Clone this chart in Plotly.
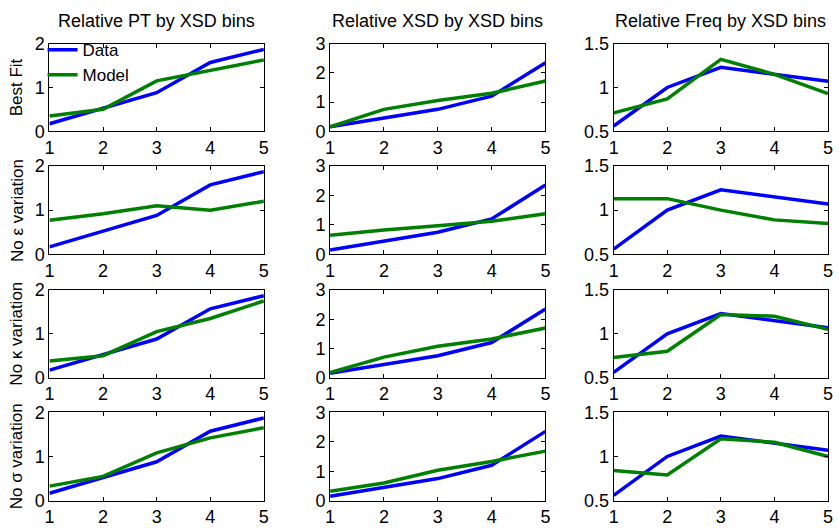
import plotly.graph_objects as go

bins = [1, 2, 3, 4, 5]
col_titles = ["Relative PT by XSD bins", "Relative XSD by XSD bins", "Relative Freq by XSD bins"]
row_titles = ["Best Fit", "No ε variation", "No κ variation", "No σ variation"]

data_pt = [0.17, 0.52, 0.88, 1.57, 1.87]
data_xsd = [0.15, 0.45, 0.75, 1.2, 2.35]
data_freq = [0.56, 1.0, 1.23, 1.15, 1.07]

model_pt = [
    [0.35, 0.5, 1.15, 1.4, 1.63],
    [0.77, 0.92, 1.1, 1.0, 1.2],
    [0.38, 0.5, 1.05, 1.35, 1.75],
    [0.33, 0.55, 1.08, 1.42, 1.65],
]
model_xsd = [
    [0.15, 0.75, 1.05, 1.3, 1.72],
    [0.65, 0.83, 0.97, 1.12, 1.38],
    [0.17, 0.7, 1.07, 1.32, 1.7],
    [0.32, 0.6, 1.03, 1.33, 1.68],
]
model_freq = [
    [0.71, 0.87, 1.32, 1.15, 0.93],
    [1.13, 1.13, 1.0, 0.89, 0.85],
    [0.73, 0.8, 1.22, 1.2, 1.05],
    [0.84, 0.79, 1.2, 1.16, 1.0],
]

y_ranges = [[0, 2], [0, 3], [0.5, 1.5]]
y_ticks = [[0, 1, 2], [0, 1, 2, 3], [0.5, 1, 1.5]]
y_ticktext = [["0", "1", "2"], ["0", "1", "2", "3"], ["0.5", "1", "1.5"]]

W, H = 839, 529
col_px = [(45, 262), (329, 547), (616, 833)]
row_px = [(35, 126), (162, 254), (291, 382), (418, 510)]

BLUE = "#0000ff"
GREEN = "#008000"
FONT = "Liberation Sans, Arial, sans-serif"

fig = go.Figure()
datas = [data_pt, data_xsd, data_freq]
models = [model_pt, model_xsd, model_freq]

layout = {}
idx = 0
for r in range(4):
    for c in range(3):
        idx += 1
        xa = "xaxis" if idx == 1 else f"xaxis{idx}"
        ya = "yaxis" if idx == 1 else f"yaxis{idx}"
        xref = "x" if idx == 1 else f"x{idx}"
        yref = "y" if idx == 1 else f"y{idx}"
        x0, x1 = col_px[c]
        y0, y1 = row_px[r]
        layout[xa] = dict(
            domain=[x0 / W, x1 / W], anchor=yref, range=[1, 5],
            tickvals=bins, ticktext=[str(b) for b in bins],
            ticks="inside", ticklen=4, tickcolor="black",
            showline=True, linecolor="black", linewidth=1, mirror="ticks",
            showgrid=False, zeroline=False, ticklabeloverflow="allow",
            tickfont=dict(family=FONT, size=18, color="black"),
        )
        layout[ya] = dict(
            domain=[1 - y1 / H, 1 - y0 / H], anchor=xref, range=y_ranges[c],
            tickvals=y_ticks[c], ticktext=y_ticktext[c],
            ticks="inside", ticklen=4, tickcolor="black",
            showline=True, linecolor="black", linewidth=1, mirror="ticks",
            showgrid=False, zeroline=False, ticklabeloverflow="allow",
            tickfont=dict(family=FONT, size=18, color="black"),
        )
        fig.add_trace(go.Scatter(
            x=bins, y=datas[c], mode="lines", name="Data",
            line=dict(color=BLUE, width=3.5), xaxis=xref, yaxis=yref,
            showlegend=(idx == 1), cliponaxis=True,
        ))
        fig.add_trace(go.Scatter(
            x=bins, y=models[c][r], mode="lines", name="Model",
            line=dict(color=GREEN, width=3.5), xaxis=xref, yaxis=yref,
            showlegend=(idx == 1), cliponaxis=True,
        ))

annotations = []
for c in range(3):
    x0, x1 = col_px[c]
    annotations.append(dict(
        text=col_titles[c], x=(x0 + x1) / 2 / W, y=1 - 11 / H,
        xref="paper", yref="paper", showarrow=False,
        xanchor="center", yanchor="middle",
        font=dict(family=FONT, size=18, color="black"),
    ))
for r in range(4):
    y0, y1 = row_px[r]
    annotations.append(dict(
        text=row_titles[r], x=12 / W, y=1 - (y0 + y1) / 2 / H,
        xref="paper", yref="paper", showarrow=False, textangle=-90,
        xanchor="center", yanchor="middle",
        font=dict(family=FONT, size=17, color="black"),
    ))

fig.update_layout(
    width=W, height=H,
    margin=dict(l=0, r=0, t=0, b=0),
    paper_bgcolor="white", plot_bgcolor="white",
    annotations=annotations,
    legend=dict(
        x=38 / W, y=1 - 23 / H, xanchor="left", yanchor="top",
        bgcolor="rgba(255,255,255,0)", borderwidth=0,
        font=dict(family=FONT, size=17, color="black"),
        itemwidth=30, tracegroupgap=0,
    ),
    showlegend=True,
    **layout,
)

fig.write_html(
    "out.html",
    config={"displayModeBar": False},
    post_script="document.body.style.margin='0';document.body.style.overflow='hidden';",
)
